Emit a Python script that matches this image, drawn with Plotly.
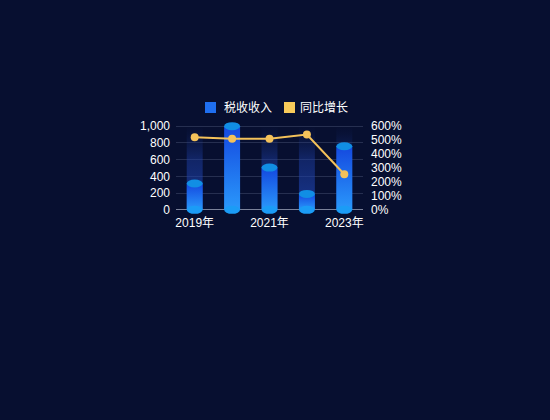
import plotly.graph_objects as go

years = ["2019年", "2020年", "2021年", "2022年", "2023年"]
tax_income = [315, 1000, 505, 190, 760]
yoy_growth = [520, 510, 510, 540, 255]
legend_names = ["税收收入", "同比增长"]
legend_colors = ["#1f6ff0", "#f8cb5a"]

bg_color = "#070f30"
font_name = "Liberation Sans, Noto Sans CJK SC, sans-serif"

W, H = 550, 420
L, R, T, B = 176, 187, 122, 206

half_w = 0.213   # half bar width in category units
ell_h = 48       # half ellipse height in value units
y_max = 1000


def px_x(p):
    return (p - L) / (W - L - R)


def px_y(p):
    return (H - B - p) / (H - T - B)


fig = go.Figure()

# ghost background columns
for i in range(len(years)):
    fig.add_trace(go.Scatter(
        x=[i - half_w, i - half_w, i + half_w, i + half_w],
        y=[0, y_max, y_max, 0],
        mode="none", fill="toself",
        fillgradient=dict(type="vertical", start=0, stop=y_max,
                          colorscale=[[0, "rgba(32,72,185,0.7)"], [0.6, "rgba(30,64,170,0.45)"],
                                      [0.9, "rgba(28,58,150,0.08)"], [1, "rgba(28,58,150,0)"]]),
        showlegend=False, hoverinfo="skip"))

# cylinder bodies
for i, v in enumerate(tax_income):
    fig.add_trace(go.Scatter(
        x=[i - half_w, i - half_w, i + half_w, i + half_w],
        y=[0, v, v, 0],
        mode="none", fill="toself",
        fillgradient=dict(type="vertical", start=0, stop=v,
                          colorscale=[[0, "#2a98fb"], [1, "#1448df"]]),
        showlegend=False, hoverinfo="skip"))

# yoy line
fig.add_trace(go.Scatter(
    x=list(range(len(years))), y=yoy_growth, yaxis="y2",
    mode="lines+markers",
    line=dict(color="#f4c25a", width=2),
    marker=dict(size=8, color="#f4c25a"),
    showlegend=False))

# cylinder caps
shapes = []
for i, v in enumerate(tax_income):
    shapes.append(dict(type="circle", xref="x", yref="y", layer="above",
                       x0=i - half_w, x1=i + half_w, y0=v - ell_h, y1=v + ell_h,
                       fillcolor="#118ee4", line=dict(width=0)))
    shapes.append(dict(type="circle", xref="x", yref="y", layer="above",
                       x0=i - half_w, x1=i + half_w, y0=-ell_h, y1=ell_h,
                       fillcolor="#1b9cf6", line=dict(width=0)))

# legend drawn by hand (swatch + label)
annotations = []
legend_x = [205, 284]
text_x = [222, 298]
for name, color, sx, tx in zip(legend_names, legend_colors, legend_x, text_x):
    shapes.append(dict(type="rect", xref="paper", yref="paper",
                       x0=px_x(sx), x1=px_x(sx + 11), y0=px_y(113), y1=px_y(102),
                       fillcolor=color, line=dict(width=0)))
    annotations.append(dict(xref="paper", yref="paper", x=px_x(tx), y=px_y(107.5),
                            xanchor="left", yanchor="middle", showarrow=False,
                            text=name, font=dict(size=12, color="#ffffff")))

fig.update_layout(
    width=W, height=H,
    paper_bgcolor=bg_color, plot_bgcolor=bg_color,
    margin=dict(l=L, r=R, t=T, b=B),
    font=dict(family=font_name, size=12, color="#ffffff"),
    shapes=shapes,
    annotations=annotations,
    showlegend=False,
    xaxis=dict(range=[-0.5, len(years) - 0.5], showgrid=False, zeroline=False,
               showline=False, tickvals=list(range(0, len(years), 2)),
               ticktext=years[::2], ticks="", tickfont=dict(size=12, color="#ffffff")),
    yaxis=dict(range=[-50, 1050], tick0=0, dtick=200, tickformat=",",
               showgrid=True, gridcolor="#262f50", gridwidth=1,
               zeroline=True, zerolinecolor="#7a8199", zerolinewidth=1,
               showline=False, ticks="", ticklabelstandoff=5,
               tickfont=dict(size=12, color="#ffffff")),
    yaxis2=dict(range=[-30, 630], tick0=0, dtick=100, ticksuffix="%",
                overlaying="y", side="right", showgrid=False, zeroline=False,
                showline=False, ticks="", ticklabelstandoff=7,
                tickfont=dict(size=12, color="#ffffff")),
)

fig.write_html("out.html", config={"displayModeBar": False},
               post_script="document.body.style.margin='0';"
                           "document.body.style.background='" + bg_color + "';")
